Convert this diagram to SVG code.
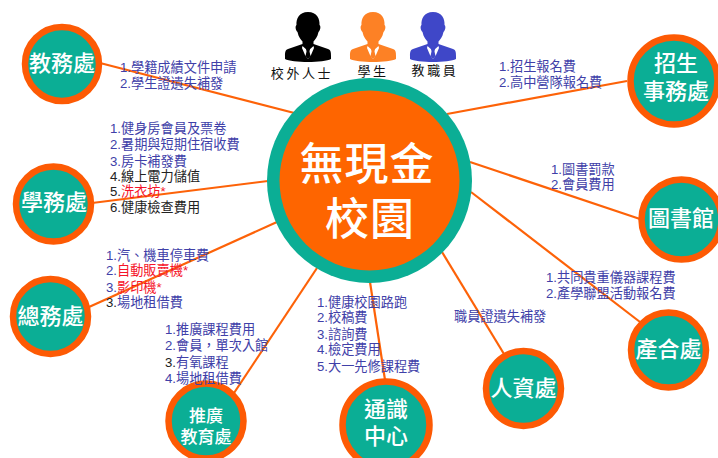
<svg xmlns="http://www.w3.org/2000/svg" width="718" height="458" viewBox="0 0 718 458">
<style>
text{font-family:"Liberation Sans","Noto Sans CJK TC",sans-serif}
.n{fill:#0bae95;stroke:#fd5a04;stroke-width:6.5}
.l{stroke:#fd6208;stroke-width:2.2;fill:none}
.t{fill:#fff;font-weight:500;text-anchor:middle;font-family:"Noto Sans CJK TC",sans-serif}
.b{font-size:13.2px;fill:#4040a8}
.k{fill:#222}
.r{fill:#f5142a}
.p{font-size:13px;fill:#111;letter-spacing:2.6px;text-anchor:middle;font-family:"Noto Sans CJK TC",sans-serif}
</style>
<defs>
<symbol id="person" viewBox="0 0 46 52" width="46" height="52" overflow="visible">
<path d="M23 0C14 0 11 7 11.500 13C10 14 10.500 18 12.500 20C13.500 25 16 28 17.500 29.500V32L3 37C0 38 0 41 0 44V47C7 51 39 51 46 47V44C46 41 46 38 43 37L28.500 32V29.500C30 28 32.500 25 33.500 20C35.500 18 36 14 34.500 13C35 7 32 0 23 0Z" fill="currentColor"/>
<path d="M17.500 34L23 39L28.500 34L29 36L26 43L23 47L20 43L17 36Z" fill="#fff"/>
<path d="M21 36.500H25L24.500 39.500L25.500 44L23 47L20.500 44L21.500 39.500Z" fill="currentColor"/>
</symbol>
</defs>
<g id="connectors">
<line class="l" x1="100" y1="63" x2="306" y2="116"/>
<line class="l" x1="92" y1="203" x2="268" y2="181"/>
<line class="l" x1="89" y1="307" x2="277" y2="222"/>
<line class="l" x1="234" y1="393" x2="317" y2="268"/>
<line class="l" x1="385" y1="380" x2="370" y2="282"/>
<line class="l" x1="504" y1="354" x2="442" y2="252"/>
<line class="l" x1="640" y1="322" x2="471" y2="192"/>
<line class="l" x1="640" y1="219" x2="470" y2="162"/>
<line class="l" x1="627" y1="81" x2="447" y2="114"/>
</g>
<g id="audience">
<use href="#person" x="285" y="12" color="#000"/>
<text class="p" x="302" y="78">校外人士</text>
<use href="#person" x="350" y="12" color="#fd8125"/>
<text class="p" x="373" y="76">學生</text>
<use href="#person" x="410" y="12" color="#3f47c8"/>
<text class="p" x="435" y="75">教職員</text>
</g>
<g id="center">
<circle cx="369.500" cy="180.500" r="102.500" fill="#0bae95"/>
<circle cx="369.500" cy="180.500" r="90" fill="#fe6500"/>
<text class="t" font-size="44" letter-spacing="1"><tspan x="367" y="180">無現金</tspan><tspan x="370" y="235">校園</tspan></text>
</g>
<g id="n-jiaowu"><circle class="n" cx="62" cy="64" r="37"/><text class="t" x="62" y="71" font-size="22">教務處</text></g>
<g id="n-xuewu"><circle class="n" cx="53.500" cy="204" r="37.500"/><text class="t" x="54" y="210" font-size="22">學務處</text></g>
<g id="n-zongwu"><circle class="n" cx="50.500" cy="316.500" r="37.500"/><text class="t" x="50.500" y="324" font-size="22">總務處</text></g>
<g id="n-tuiguang"><circle class="n" cx="206" cy="421" r="37.500"/><text class="t" font-size="17"><tspan x="206" y="422">推廣</tspan><tspan x="206" y="443">教育處</tspan></text></g>
<g id="n-tongshi"><circle class="n" cx="386" cy="425" r="43.500"/><text class="t" font-size="22"><tspan x="386" y="417">通識</tspan><tspan x="386" y="444">中心</tspan></text></g>
<g id="n-renzi"><circle class="n" cx="523.500" cy="388.500" r="37.500"/><text class="t" x="523.500" y="396" font-size="22">人資處</text></g>
<g id="n-chanhe"><circle class="n" cx="668.500" cy="350" r="37.500"/><text class="t" x="668.500" y="357" font-size="22">產合處</text></g>
<g id="n-lib"><circle class="n" cx="681.500" cy="219.500" r="40"/><text class="t" x="681" y="226" font-size="22">圖書館</text></g>
<g id="n-zhaosheng"><circle class="n" cx="674" cy="81" r="43.500"/><text class="t" font-size="22"><tspan x="676" y="71">招生</tspan><tspan x="676" y="99">事務處</tspan></text></g>
<g id="labels">
<text class="b" x="120" y="72">1.學籍成績文件申請</text>
<text class="b" x="120" y="88">2.學生證遺失補發</text>
<text class="b" x="110" y="133">1.健身房會員及票卷</text>
<text class="b" x="110" y="149">2.暑期與短期住宿收費</text>
<text class="b" x="110" y="166">3.房卡補發費</text>
<text class="b k" x="110" y="181">4.線上電力儲值</text>
<text class="b k" x="110" y="196">5.<tspan class="r">洗衣坊*</tspan></text>
<text class="b k" x="110" y="212">6.健康檢查費用</text>
<text class="b" x="106" y="260">1.汽、機車停車費</text>
<text class="b" x="106" y="275">2.<tspan class="r">自動販賣機*</tspan></text>
<text class="b" x="106" y="292">3.<tspan class="r">影印機*</tspan></text>
<text class="b" x="106" y="307"><tspan class="k">3.</tspan>場地租借費</text>
<text class="b" x="165" y="334">1.推廣課程費用</text>
<text class="b" x="165" y="350">2.會員&#xFF0C;單次入館</text>
<text class="b" x="165" y="367"><tspan class="k">3.</tspan>有氧課程</text>
<text class="b" x="165" y="383">4.場地租借費</text>
<text class="b" x="317" y="307">1.健康校園路跑</text>
<text class="b" x="317" y="322">2.校稿費</text>
<text class="b" x="317" y="339">3.諮詢費</text>
<text class="b" x="317" y="354">4.檢定費用</text>
<text class="b" x="317" y="371">5.大一先修課程費</text>
<text class="b" x="454" y="321">職員證遺失補發</text>
<text class="b" x="546" y="282">1.共同貴重儀器課程費</text>
<text class="b" x="546" y="298">2.產學聯盟活動報名費</text>
<text class="b" x="551" y="174">1.圖書罰款</text>
<text class="b" x="551" y="189">2.會員費用</text>
<text class="b" x="499" y="71">1.招生報名費</text>
<text class="b" x="499" y="87">2.高中營隊報名費</text>
</g>
</svg>
